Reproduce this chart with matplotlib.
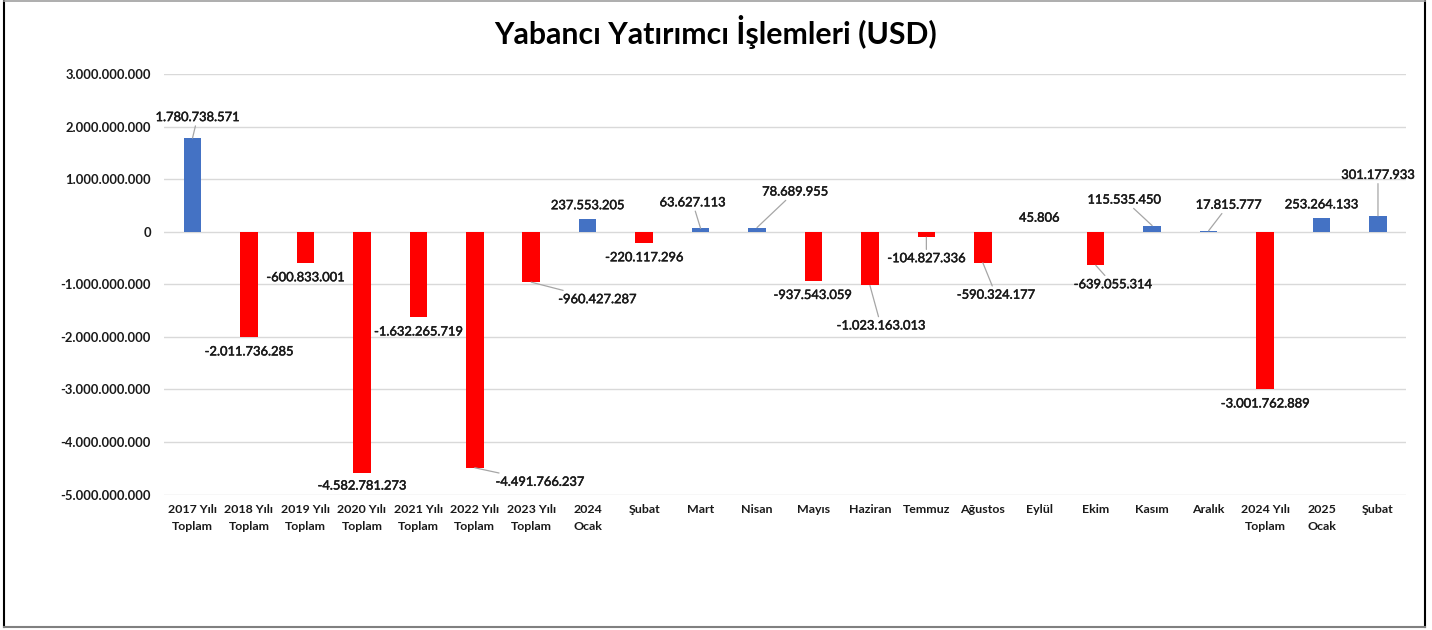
import matplotlib
matplotlib.use("Agg")
import matplotlib.pyplot as plt
import matplotlib.patheffects as pe
from matplotlib.lines import Line2D

# categories and values (USD)
categories = [
    "2017 Yılı\nToplam", "2018 Yılı\nToplam", "2019 Yılı\nToplam", "2020 Yılı\nToplam",
    "2021 Yılı\nToplam", "2022 Yılı\nToplam", "2023 Yılı\nToplam", "2024\nOcak",
    "Şubat", "Mart", "Nisan", "Mayıs", "Haziran", "Temmuz", "Ağustos", "Eylül",
    "Ekim", "Kasım", "Aralık", "2024 Yılı\nToplam", "2025\nOcak", "Şubat",
]
values = [
    1780738571, -2011736285, -600833001, -4582781273, -1632265719, -4491766237,
    -960427287, 237553205, -220117296, 63627113, 78689955, -937543059,
    -1023163013, -104827336, -590324177, 45806, -639055314, 115535450,
    17815777, -3001762889, 253264133, 301177933,
]
yticks = [3e9, 2e9, 1e9, 0, -1e9, -2e9, -3e9, -4e9, -5e9]

# label placement (offset in pixels from bar end) and leader line flag
label_offsets = [
    (5, 21), (0, -14), (0, -14), (0, -13), (0, -14), (65, -14), (66, -17),
    (0, 14), (0, -14), (-8, 26), (38, 36), (-1, -14), (11, -40), (0, -21),
    (13, -32), (0, 14), (17, -19), (-28, 26), (20, 26), (0, -14), (0, 14), (0, 41),
]
leaders = [1, 0, 0, 0, 0, 1, 1, 0, 0, 1, 1, 0, 1, 1, 1, 0, 1, 1, 1, 0, 0, 1]

BLUE = "#4472C4"
RED = "#FF0000"


def dotted(v):
    return f"{v:,}".replace(",", ".")


fig = plt.figure(figsize=(14.32, 6.3), dpi=100)
ax = fig.add_axes([164.3 / 1432, 1 - 494.5 / 630, 1241.9 / 1432, 420.5 / 630])

x = list(range(len(values)))
colors = [BLUE if v >= 0 else RED for v in values]
ax.bar(x, values, width=0.31, color=colors, zorder=3)

ax.set_xlim(-0.5, len(values) - 0.5)
ax.set_ylim(-5e9, 3e9)
ax.set_yticks(yticks)
ax.set_yticklabels([dotted(int(t)) for t in yticks], fontfamily="Lato",
                   fontweight="bold", fontsize=9.4, color="#1a1a1a")
ax.set_xticks(x)
ax.set_xticklabels(categories, fontfamily="Lato", fontweight="bold",
                   fontsize=8.9, color="#1a1a1a", linespacing=1.75, va="top")
ax.tick_params(axis="y", length=0, pad=9.5)
ax.tick_params(axis="x", length=0, pad=6.5)
ax.grid(axis="y", color="#d9d9d9", lw=1, zorder=0)
for s in ax.spines.values():
    s.set_visible(False)

# slightly heavier data labels
heavy = [pe.withStroke(linewidth=0.35, foreground="#1a1a1a")]
for i, v in enumerate(values):
    dx, dy = label_offsets[i]
    props = None
    if leaders[i]:
        props = dict(arrowstyle="-", color="#a6a6a6", lw=0.9, shrinkA=0, shrinkB=0)
    ax.annotate(dotted(v), xy=(i, v), xytext=(dx, dy), textcoords="offset pixels",
                ha="center", va="center", fontfamily="Lato", fontsize=9.3,
                color="#1a1a1a", arrowprops=props, zorder=4, path_effects=heavy)

fig.text(0.5, 1 - 32 / 630, "Yabancı Yatırımcı İşlemleri (USD)", ha="center",
         va="center", fontfamily="Lato", fontweight="bold", fontsize=21.8, color="black")

# outer frame
fig.add_artist(Line2D([3.5 / 1432, 3.5 / 1432], [3 / 630, 1], transform=fig.transFigure, color="black", lw=1.5))
fig.add_artist(Line2D([1424.5 / 1432, 1424.5 / 1432], [3 / 630, 1], transform=fig.transFigure, color="black", lw=1.5))
fig.add_artist(Line2D([3.5 / 1432, 1424.5 / 1432], [1 - 0.8 / 630] * 2, transform=fig.transFigure, color="#a0a0a0", lw=1.2))
fig.add_artist(Line2D([3.5 / 1432, 1424.5 / 1432], [3.5 / 630] * 2, transform=fig.transFigure, color="#808080", lw=1.5))

fig.savefig("out.png", dpi=100, facecolor="white")
